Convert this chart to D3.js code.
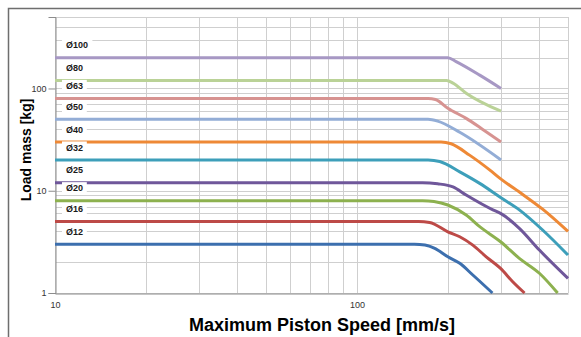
<!DOCTYPE html>
<html>
<head>
<meta charset="utf-8">
<script src="https://cdn.jsdelivr.net/npm/d3@7"></script>
<style>
  body { margin: 0; background: #fff; }
  svg { display: block; font-family: "Liberation Sans", Arial, sans-serif; }
</style>
</head>
<body>
<div id="chart"></div>
<script>
// Bore sizes, bottom to top
const bores = ["Ø12", "Ø16", "Ø20", "Ø25", "Ø32", "Ø40", "Ø50", "Ø63", "Ø80", "Ø100"];

// [speed mm/s, load kg]
const o12 = [[10, 3], [155, 3], [168, 2.95], [181, 2.73], [200, 2.26], [219, 1.95], [242, 1.5], [281, 1]];
const o16 = [[10, 5], [160, 5], [174, 4.9], [200, 3.97], [219, 3.55], [242, 2.94], [268, 2.26], [299, 1.74], [328, 1.29], [359, 1]];
const o20 = [[10, 8], [165, 8], [180, 7.85], [200, 7.25], [230, 5.78], [255, 4.45], [299, 3.17], [345, 2.18], [402, 1.56], [462, 1]];
const o25 = [[10, 12], [165, 12], [185, 11.7], [208, 10.9], [230, 9.08], [282, 6.5], [299, 6], [345, 4.29], [402, 2.63], [500, 1.39]];
const o32 = [[10, 20], [172, 20], [188, 19.3], [219, 15.3], [255, 11.8], [299, 8.6], [345, 6.5], [412, 4.13], [500, 2.35]];
const o40 = [[10, 30], [190, 30], [205, 28.8], [236, 22.3], [275, 16], [300, 13], [354, 9.2], [412, 6.6], [500, 4]];
const o50 = [[10, 50], [172, 50], [185, 48], [219, 37.3], [300, 20]];
const o63 = [[10, 80], [172, 80], [182, 78], [200, 64], [230, 51], [261, 39.8], [300, 30]];
const o80 = [[10, 120], [198, 120], [208, 113], [230, 90], [300, 60]];
const o100 = [[10, 200], [200, 200], [213, 183], [255, 135], [300, 100]];
const series = [o12, o16, o20, o25, o32, o40, o50, o63, o80, o100];

const colors = ["#3c6fae", "#bd4a47", "#8db14f", "#6f579a", "#3d9fba",
                "#ee8936", "#93add6", "#d79391", "#bad297", "#a798c4"];

// axis ticks
const xTicks = [10, 100];
const yTicks = [1, 10, 100];
const xGrid = [10, 20, 30, 40, 50, 60, 70, 80, 90, 100, 200, 300, 400, 500];
const yGrid = [1, 2, 3, 4, 5, 6, 7, 8, 9, 10, 20, 30, 40, 50, 60, 70, 80, 90, 100, 200, 300, 400, 500];

const W = 581, H = 337;
const pLeft = 55, pRight = 568, pTop = 17, pBottom = 293;

const svg = d3.select("#chart").append("svg")
  .attr("width", W)
  .attr("height", H);

svg.append("rect").attr("width", W).attr("height", H).attr("fill", "#fff");

// outer frame of the chart area
svg.append("rect")
  .attr("x", 8.5).attr("y", 8.5)
  .attr("width", 600).attr("height", 360)
  .attr("fill", "none")
  .attr("stroke", "#6e6e6e")
  .attr("stroke-width", 1.5);

const x = d3.scaleLog().domain([10, 500]).range([pLeft, pRight]);
const y = d3.scaleLog().domain([1, 500]).range([pBottom, pTop]);

// grid
svg.append("g").selectAll("line")
  .data(xGrid)
  .enter()
  .append("line")
  .attr("x1", d => Math.round(x(d)) + 0.5)
  .attr("x2", d => Math.round(x(d)) + 0.5)
  .attr("y1", pTop)
  .attr("y2", pBottom)
  .attr("stroke", "#cfcfcf");

svg.append("g").selectAll("line")
  .data(yGrid)
  .enter()
  .append("line")
  .attr("y1", d => Math.round(y(d)) + 0.5)
  .attr("y2", d => Math.round(y(d)) + 0.5)
  .attr("x1", pLeft)
  .attr("x2", pRight)
  .attr("stroke", "#cfcfcf");

// axes
const yAxis = d3.axisLeft(y).tickValues(yTicks).tickFormat(d3.format("d")).tickSize(7).tickPadding(2);
const gy = svg.append("g")
  .attr("transform", "translate(" + (pLeft + 0.5) + ",0)")
  .call(yAxis);
gy.select(".domain").attr("stroke", "#8c8c8c");
gy.selectAll(".tick line").attr("stroke", "#8c8c8c");
gy.selectAll("text").attr("fill", "#333").style("font-size", "9px");

const xAxis = d3.axisBottom(x).tickValues(xTicks).tickFormat(d3.format("d")).tickSize(0).tickPadding(8);
const gx = svg.append("g")
  .attr("transform", "translate(0," + (pBottom + 0.5) + ")")
  .call(xAxis);
gx.select(".domain").attr("stroke", "#8c8c8c");
gx.selectAll("text").attr("fill", "#333").style("font-size", "9px");

// curves
const line = d3.line()
  .x(d => x(d[0]))
  .y(d => y(d[1]))
  .curve(d3.curveMonotoneX);

svg.append("g").selectAll("path")
  .data(series)
  .enter()
  .append("path")
  .attr("d", line)
  .attr("fill", "none")
  .attr("stroke", (d, i) => colors[i])
  .attr("stroke-width", 3)
  .attr("stroke-linejoin", "round");

// bore labels, with white box behind
const lab = svg.append("g").selectAll("g")
  .data(bores)
  .enter()
  .append("g")
  .attr("transform", (d, i) => "translate(66," + (y(series[i][0][1]) - 12.5) + ")");

lab.append("rect")
  .attr("x", -4)
  .attr("y", -6)
  .attr("width", d => d.length * 5.6 + 8)
  .attr("height", 12)
  .attr("fill", "#fff");

lab.append("text")
  .text(d => d)
  .attr("dy", "0.35em")
  .attr("fill", "#1a1a1a")
  .style("font-size", "9px")
  .style("font-weight", "bold");

// axis titles
svg.append("text")
  .attr("transform", "translate(31,150) rotate(-90)")
  .attr("text-anchor", "middle")
  .style("font-size", "14px")
  .style("font-weight", "bold")
  .text("Load mass [kg]");

svg.append("text")
  .attr("x", 322)
  .attr("y", 331)
  .attr("text-anchor", "middle")
  .style("font-size", "18px")
  .style("font-weight", "bold")
  .text("Maximum Piston Speed [mm/s]");
</script>
</body>
</html>
